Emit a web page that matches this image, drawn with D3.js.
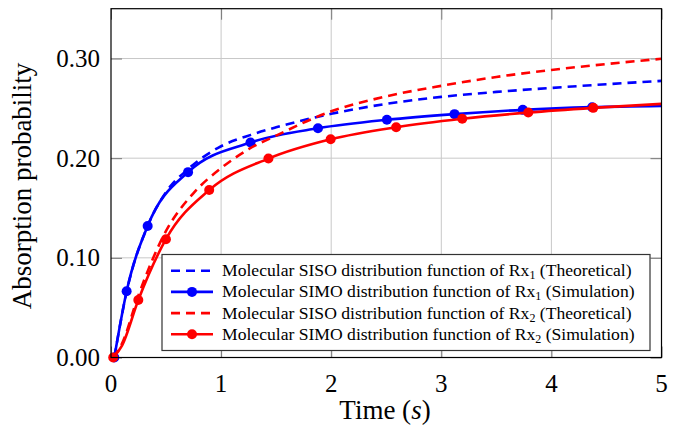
<!DOCTYPE html>
<html>
<head>
<meta charset="utf-8" />
<title>Absorption probability</title>
<script src="https://cdn.jsdelivr.net/npm/d3@7"></script>
<style>
	body { margin: 0; background: #fff; }
	svg text { font-family: 'Liberation Serif', serif; }
</style>
</head>
<body>
<svg width="677" height="427"></svg>
<script>
// values
const xTicks = [0, 1, 2, 3, 4, 5];
const yTicks = [0, 0.1, 0.2, 0.3];

// Rx1 theoretical (dashed blue)
const rx1TheoT = [0.03, 0.142, 0.333, 0.5, 0.7, 1.0, 1.27, 1.5, 2.0, 2.5, 3.0, 3.5, 4.0, 4.5, 5.0];
const rx1TheoP = [0.0, 0.066, 0.132, 0.166, 0.189, 0.212, 0.2234, 0.231, 0.2445, 0.2545, 0.2615, 0.2665, 0.2705, 0.2742, 0.2776];
// Rx1 simulation (solid blue, marks)
const rx1SimT = [0.03, 0.142, 0.333, 0.70, 1.267, 1.88, 2.506, 3.12, 3.74, 4.37, 5.0];
const rx1SimP = [0.0, 0.0665, 0.132, 0.186, 0.2157, 0.230, 0.2385, 0.2442, 0.2485, 0.2512, 0.2525];
const rx1SimMark = [1, 1, 1, 1, 1, 1, 1, 1, 1, 1, 0];
// Rx2 theoretical (dashed red)
const rx2TheoT = [0.02, 0.1, 0.248, 0.5, 0.75, 1.0, 1.25, 1.5, 2.0, 2.5, 3.0, 3.5, 4.0, 4.5, 5.0];
const rx2TheoP = [0.0, 0.014, 0.062, 0.127, 0.165, 0.19, 0.209, 0.2227, 0.247, 0.262, 0.2726, 0.2815, 0.2885, 0.2945, 0.2997];
// Rx2 simulation (solid red, marks)
const rx2SimT = [0.02, 0.1, 0.248, 0.499, 0.892, 1.43, 1.995, 2.59, 3.19, 3.79, 4.38, 5.0];
const rx2SimP = [0.0, 0.012, 0.0577, 0.1187, 0.168, 0.1996, 0.219, 0.2311, 0.2395, 0.2458, 0.2505, 0.2545];
const rx2SimMark = [1, 0, 1, 1, 1, 1, 1, 1, 1, 1, 1, 0];

const legendLabels = [
	['Molecular SISO distribution function of Rx', '1', ' (Theoretical)'],
	['Molecular SIMO distribution function of Rx', '1', ' (Simulation)'],
	['Molecular SISO distribution function of Rx', '2', ' (Theoretical)'],
	['Molecular SIMO distribution function of Rx', '2', ' (Simulation)']
];

const serif = 'Liberation Serif';

let svg = d3.select('svg');
let xScale = d3.scaleLinear().domain([0, 5]).range([111, 661.5]);
let yScale = d3.scaleLinear().domain([0, 0.35]).range([357.5, 8.7]);
let pLeft = 111, pRight = 661.5, pTop = 8.7, pBottom = 357.5;

// grid
let grid = svg.append('g').attr('stroke', '#c8c8c8').attr('stroke-width', 1);
grid.selectAll('line.gx').data(xTicks.slice(1, -1)).enter().append('line')
	.attr('x1', d => xScale(d)).attr('x2', d => xScale(d))
	.attr('y1', pTop).attr('y2', pBottom);
grid.selectAll('line.gy').data(yTicks.slice(1)).enter().append('line')
	.attr('y1', d => yScale(d)).attr('y2', d => yScale(d))
	.attr('x1', pLeft).attr('x2', pRight);

// inner ticks on all four sides
let xAxisB = d3.axisBottom(xScale).tickValues(xTicks).tickSize(-11).tickFormat('');
let xAxisT = d3.axisTop(xScale).tickValues(xTicks).tickSize(-11).tickFormat('');
let yAxisL = d3.axisLeft(yScale).tickValues(yTicks).tickSize(-11).tickFormat('');
let yAxisR = d3.axisRight(yScale).tickValues(yTicks).tickSize(-11).tickFormat('');
svg.append('g').attr('transform', `translate(0,${pBottom})`).call(xAxisB);
svg.append('g').attr('transform', `translate(0,${pTop})`).call(xAxisT);
svg.append('g').attr('transform', `translate(${pLeft},0)`).call(yAxisL);
svg.append('g').attr('transform', `translate(${pRight},0)`).call(yAxisR);
svg.selectAll('.domain').remove();
svg.selectAll('.tick line').attr('stroke', '#777');
svg.selectAll('.tick text').remove();

// tick labels
svg.selectAll('text.xl').data(xTicks).enter().append('text')
	.attr('x', d => xScale(d)).attr('y', 392)
	.attr('text-anchor', 'middle')
	.style('font-family', serif).style('font-size', '25px')
	.text(d => d);
svg.selectAll('text.yl').data(yTicks).enter().append('text')
	.attr('x', 100).attr('y', d => yScale(d) + 8.5)
	.attr('text-anchor', 'end')
	.style('font-family', serif).style('font-size', '25px')
	.text(d => d3.format('.2f')(d));

// axis titles
let xt = svg.append('text').attr('x', 385).attr('y', 419)
	.attr('text-anchor', 'middle')
	.style('font-family', serif).style('font-size', '27px');
xt.append('tspan').text('Time (');
xt.append('tspan').style('font-style', 'italic').text('s');
xt.append('tspan').text(')');
svg.append('text').attr('transform', 'translate(31,186) rotate(-90)')
	.attr('text-anchor', 'middle')
	.style('font-family', serif).style('font-size', '27px')
	.text('Absorption probability');

let line = d3.line().x(d => xScale(d[0])).y(d => yScale(d[1])).curve(d3.curveMonotoneX);

let series = [
	{ t: rx1TheoT, p: rx1TheoP, color: '#0000ff', dash: true },
	{ t: rx1SimT, p: rx1SimP, mark: rx1SimMark, color: '#0000ff', dash: false },
	{ t: rx2TheoT, p: rx2TheoP, color: '#ff0000', dash: true },
	{ t: rx2SimT, p: rx2SimP, mark: rx2SimMark, color: '#ff0000', dash: false }
];

series.forEach(s => {
	let pts = s.t.map((t, i) => [t, s.p[i]]);
	svg.append('path')
		.attr('d', line(pts))
		.attr('fill', 'none')
		.attr('stroke', s.color)
		.attr('stroke-width', 2.6)
		.attr('stroke-dasharray', s.dash ? '9,6' : null);
	if (s.mark) {
		svg.selectAll(null).data(pts.filter((d, i) => s.mark[i])).enter().append('circle')
			.attr('cx', d => xScale(d[0])).attr('cy', d => yScale(d[1]))
			.attr('r', 5).attr('fill', s.color);
	}
});

// frame
svg.append('rect').attr('x', pLeft).attr('y', pTop)
	.attr('width', pRight - pLeft).attr('height', pBottom - pTop)
	.attr('fill', 'none').attr('stroke', '#000').attr('stroke-width', 1.2);

// legend
let lg = svg.append('g');
lg.append('rect').attr('x', 162).attr('y', 254.5).attr('width', 488).attr('height', 96)
	.attr('fill', '#fff').attr('stroke', '#333').attr('stroke-width', 1.2);
series.forEach((s, i) => {
	let y = 270.7 + i * 21.2;
	lg.append('line').attr('x1', 171).attr('x2', 213).attr('y1', y).attr('y2', y)
		.attr('stroke', s.color).attr('stroke-width', 2.6)
		.attr('stroke-dasharray', s.dash ? '9,6' : null);
	if (s.mark) {
		lg.append('circle').attr('cx', 192).attr('cy', y).attr('r', 5).attr('fill', s.color);
	}
	let tx = lg.append('text').attr('x', 222).attr('y', y + 5.5)
		.style('font-family', serif).style('font-size', '17.6px');
	tx.append('tspan').text(legendLabels[i][0]);
	tx.append('tspan').attr('dy', 3).style('font-size', '12px').text(legendLabels[i][1]);
	tx.append('tspan').attr('dy', -3).text(legendLabels[i][2]);
});
</script>
</body>
</html>
